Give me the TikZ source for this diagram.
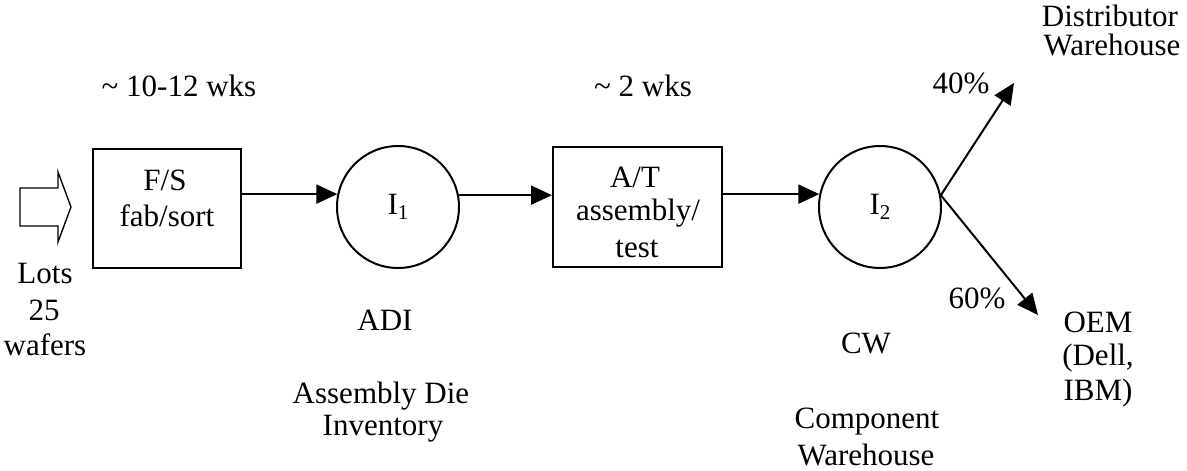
\documentclass[tikz,border=0pt]{standalone}
\usepackage{fontspec}
\setmainfont{Liberation Serif}
\usetikzlibrary{arrows.meta}

% subscripted inventory labels
\newcommand{\invlabel}[2]{#1\raisebox{-5pt}{\fontsize{21}{21}\selectfont #2}}

\tikzset{
  txt/.style={font=\fontsize{31}{36}\selectfont, inner sep=0pt, anchor=base},
  procbox/.style={draw, line width=2pt, inner sep=0pt},
  store/.style={draw, circle, line width=2pt, minimum size=122pt, inner sep=0pt,
                font=\fontsize{31}{36}\selectfont},
  flow/.style={line width=2pt, -{Triangle[length=21pt,width=19pt]}},
  inflow/.style={line width=1.4pt, line join=miter},
}

\begin{document}
\begin{tikzpicture}[x=1pt, y=-1pt]
  \useasboundingbox (0,0) rectangle (1187,471);

  % input lots (hollow arrow)
  \draw[inflow] (20,188) -- (58,188) -- (58,172) -- (71,207) -- (58,242)
                -- (58,226) -- (20,226) -- cycle;
  \node[txt] (lots)   at (45,283) {Lots};
  \node[txt] (lots25) at (44,320) {25};
  \node[txt] (wafers) at (45,355) {wafers};

  % process steps and inventories
  \node[procbox, minimum width=148pt, minimum height=119pt] (fs) at (167,208.5) {};
  \node[procbox, minimum width=169pt, minimum height=120pt] (at) at (637.5,207) {};
  \node[store] (i1) at (398,207) {\invlabel{I}{1}};
  \node[store] (i2) at (880,207) {\invlabel{I}{2}};

  % box texts
  \node[txt] (fsA) at (165,190) {F/S};
  \node[txt] (fsB) at (167,226) {fab/sort};
  \node[txt] (atA) at (635,187) {A/T};
  \node[txt] (atB) at (638,220) {assembly/};
  \node[txt] (atC) at (637,257) {test};

  % lead times
  \node[txt] (lt1) at (179,96) {\textasciitilde\ 10-12 wks};
  \node[txt] (lt2) at (643,96) {\textasciitilde\ 2 wks};

  % flows along the chain
  \draw[flow] (fs.east |- i1.168.7) -- (i1.168.7);
  \draw[flow] (i1.11.3) -- (at.west |- i1.11.3);
  \draw[flow] (at.east |- i2.168.7) -- (i2.168.7);

  % split to customers
  \coordinate (toDist) at (1014,83);
  \coordinate (toOem)  at (1038,315);
  \draw[flow] (i2.11.3) -- (toDist);
  \draw[flow] (i2.11.3) -- (toOem);
  \node[txt] (p40) at (961,93)  {40\%};
  \node[txt] (p60) at (977,308) {60\%};

  % inventory descriptions
  \node[txt] (adi)  at (385,330) {ADI};
  \node[txt] (adiA) at (381,403) {Assembly Die};
  \node[txt] (adiB) at (383,435) {Inventory};
  \node[txt] (cw)   at (866,353) {CW};
  \node[txt] (cwA)  at (867,428) {Component};
  \node[txt] (cwB)  at (866,465) {Warehouse};

  % destinations
  \node[txt] (distA) at (1110,27) {Distributor};
  \node[txt] (distB) at (1112,55) {Warehouse};
  \node[txt] (oemA)  at (1098,332) {OEM};
  \node[txt] (oemB)  at (1098,365) {(Dell,};
  \node[txt] (oemC)  at (1098,400) {IBM)};
\end{tikzpicture}
\end{document}
